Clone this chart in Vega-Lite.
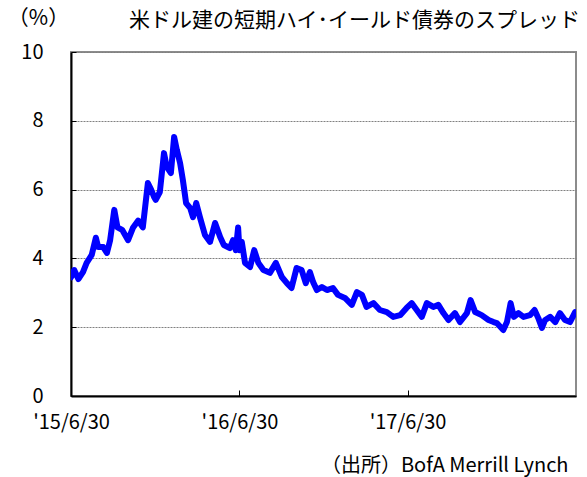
{
  "$schema": "https://vega.github.io/schema/vega-lite/v6.json",
  "width": 505,
  "height": 344,
  "autosize": {"type": "none"},
  "padding": {"left": 71, "top": 52, "right": 11, "bottom": 81},
  "background": "white",
  "title": {
    "text": "米ドル建の短期ハイ･イールド債券のスプレッド",
    "anchor": "end",
    "frame": "group",
    "orient": "top",
    "offset": -24,
    "dx": 4,
    "font": "Noto Sans CJK JP",
    "fontSize": 21,
    "fontWeight": "normal",
    "color": "#000000"
  },
  "config": {
    "view": {"stroke": "#8c8c8c", "strokeWidth": 2},
    "axis": {
      "labelFont": "Noto Sans CJK JP",
      "labelFontSize": 20,
      "labelColor": "#000000",
      "titleFont": "Noto Sans CJK JP",
      "titleFontWeight": "normal",
      "titleColor": "#000000",
      "domainColor": "#000000",
      "domainWidth": 2,
      "tickColor": "#000000"
    }
  },
  "data": {
    "values": [
      {"d": "2015-06-30", "v": 3.45},
      {"d": "2015-07-07", "v": 3.66},
      {"d": "2015-07-16", "v": 3.40},
      {"d": "2015-07-26", "v": 3.60},
      {"d": "2015-08-03", "v": 3.87},
      {"d": "2015-08-14", "v": 4.10},
      {"d": "2015-08-23", "v": 4.60},
      {"d": "2015-08-28", "v": 4.33},
      {"d": "2015-09-08", "v": 4.33},
      {"d": "2015-09-16", "v": 4.16},
      {"d": "2015-09-23", "v": 4.53},
      {"d": "2015-10-02", "v": 5.41},
      {"d": "2015-10-09", "v": 4.90},
      {"d": "2015-10-19", "v": 4.83},
      {"d": "2015-11-01", "v": 4.53},
      {"d": "2015-11-12", "v": 4.90},
      {"d": "2015-11-23", "v": 5.10},
      {"d": "2015-12-03", "v": 4.90},
      {"d": "2015-12-14", "v": 6.19},
      {"d": "2015-12-21", "v": 6.00},
      {"d": "2015-12-27", "v": 5.80},
      {"d": "2015-12-31", "v": 5.70},
      {"d": "2016-01-09", "v": 5.93},
      {"d": "2016-01-18", "v": 7.06},
      {"d": "2016-01-24", "v": 6.66},
      {"d": "2016-02-02", "v": 6.48},
      {"d": "2016-02-09", "v": 7.53},
      {"d": "2016-02-15", "v": 7.15},
      {"d": "2016-02-22", "v": 6.77},
      {"d": "2016-02-28", "v": 6.28},
      {"d": "2016-03-06", "v": 5.61},
      {"d": "2016-03-15", "v": 5.46},
      {"d": "2016-03-21", "v": 5.20},
      {"d": "2016-03-28", "v": 5.61},
      {"d": "2016-04-05", "v": 5.20},
      {"d": "2016-04-16", "v": 4.68},
      {"d": "2016-04-27", "v": 4.48},
      {"d": "2016-05-08", "v": 5.03},
      {"d": "2016-05-19", "v": 4.62},
      {"d": "2016-05-27", "v": 4.39},
      {"d": "2016-06-09", "v": 4.30},
      {"d": "2016-06-16", "v": 4.53},
      {"d": "2016-06-22", "v": 4.24},
      {"d": "2016-06-27", "v": 4.90},
      {"d": "2016-06-30", "v": 4.24},
      {"d": "2016-07-05", "v": 4.48},
      {"d": "2016-07-12", "v": 3.87},
      {"d": "2016-07-23", "v": 3.75},
      {"d": "2016-08-01", "v": 4.24},
      {"d": "2016-08-10", "v": 3.87},
      {"d": "2016-08-21", "v": 3.66},
      {"d": "2016-09-04", "v": 3.58},
      {"d": "2016-09-17", "v": 3.87},
      {"d": "2016-09-30", "v": 3.46},
      {"d": "2016-10-11", "v": 3.28},
      {"d": "2016-10-21", "v": 3.14},
      {"d": "2016-11-01", "v": 3.72},
      {"d": "2016-11-12", "v": 3.66},
      {"d": "2016-11-21", "v": 3.28},
      {"d": "2016-11-30", "v": 3.60},
      {"d": "2016-12-07", "v": 3.31},
      {"d": "2016-12-15", "v": 3.08},
      {"d": "2016-12-26", "v": 3.17},
      {"d": "2017-01-06", "v": 3.08},
      {"d": "2017-01-19", "v": 3.14},
      {"d": "2017-01-30", "v": 2.94},
      {"d": "2017-02-14", "v": 2.85},
      {"d": "2017-03-01", "v": 2.65},
      {"d": "2017-03-12", "v": 3.02},
      {"d": "2017-03-23", "v": 2.94},
      {"d": "2017-04-02", "v": 2.59},
      {"d": "2017-04-17", "v": 2.70},
      {"d": "2017-05-01", "v": 2.50},
      {"d": "2017-05-16", "v": 2.44},
      {"d": "2017-05-30", "v": 2.30},
      {"d": "2017-06-14", "v": 2.35},
      {"d": "2017-06-28", "v": 2.56},
      {"d": "2017-07-09", "v": 2.70},
      {"d": "2017-07-20", "v": 2.50},
      {"d": "2017-07-31", "v": 2.30},
      {"d": "2017-08-11", "v": 2.70},
      {"d": "2017-08-25", "v": 2.59},
      {"d": "2017-09-05", "v": 2.65},
      {"d": "2017-09-16", "v": 2.41},
      {"d": "2017-09-27", "v": 2.21},
      {"d": "2017-10-11", "v": 2.41},
      {"d": "2017-10-22", "v": 2.15},
      {"d": "2017-11-06", "v": 2.41},
      {"d": "2017-11-14", "v": 2.79},
      {"d": "2017-11-24", "v": 2.44},
      {"d": "2017-12-08", "v": 2.35},
      {"d": "2017-12-23", "v": 2.21},
      {"d": "2018-01-03", "v": 2.15},
      {"d": "2018-01-10", "v": 2.12},
      {"d": "2018-01-24", "v": 1.92},
      {"d": "2018-02-01", "v": 2.15},
      {"d": "2018-02-09", "v": 2.70},
      {"d": "2018-02-16", "v": 2.30},
      {"d": "2018-02-26", "v": 2.41},
      {"d": "2018-03-09", "v": 2.30},
      {"d": "2018-03-23", "v": 2.35},
      {"d": "2018-04-02", "v": 2.50},
      {"d": "2018-04-10", "v": 2.27},
      {"d": "2018-04-18", "v": 1.98},
      {"d": "2018-04-25", "v": 2.21},
      {"d": "2018-05-06", "v": 2.30},
      {"d": "2018-05-17", "v": 2.15},
      {"d": "2018-05-27", "v": 2.41},
      {"d": "2018-06-07", "v": 2.21},
      {"d": "2018-06-18", "v": 2.15},
      {"d": "2018-06-29", "v": 2.44}
    ]
  },
  "mark": {"type": "line", "color": "#0000ff", "strokeWidth": 6, "strokeJoin": "round", "strokeCap": "round", "clip": true},
  "encoding": {
    "x": {
      "field": "d",
      "type": "temporal",
      "scale": {"type": "utc", "domain": [{"year": 2015, "month": 6, "date": 30, "utc": true}, {"year": 2018, "month": 7, "date": 1, "utc": true}]},
      "axis": {
        "values": [
          {"year": 2015, "month": 6, "date": 30, "utc": true},
          {"year": 2016, "month": 6, "date": 30, "utc": true},
          {"year": 2017, "month": 6, "date": 30, "utc": true}
        ],
        "labelExpr": "\"'\" + utcFormat(datum.value, '%y/%-m/%-d')",
        "grid": false,
        "tickSize": -6,
        "tickWidth": 1,
        "labelPadding": 32,
        "labelBaseline": "middle",
        "labelAlign": "center",
        "title": "（出所）BofA Merrill Lynch",
        "titleFontSize": 20,
        "titleAlign": "right",
        "titleAnchor": null,
        "titleBaseline": "middle",
        "titleX": 497,
        "titleY": 69
      }
    },
    "y": {
      "field": "v",
      "type": "quantitative",
      "scale": {"domain": [0, 10], "nice": false},
      "axis": {
        "values": [0, 2, 4, 6, 8, 10],
        "grid": true,
        "gridColor": "#808080",
        "gridDash": [2, 1],
        "gridWidth": 1,
        "tickSize": -5,
        "tickWidth": 1,
        "labelPadding": 33,
        "labelBaseline": "middle",
        "title": "（%）",
        "titleFontSize": 21,
        "titleAngle": 0,
        "titleAlign": "center",
        "titleBaseline": "middle",
        "titleX": -33,
        "titleY": -34
      }
    }
  }
}
